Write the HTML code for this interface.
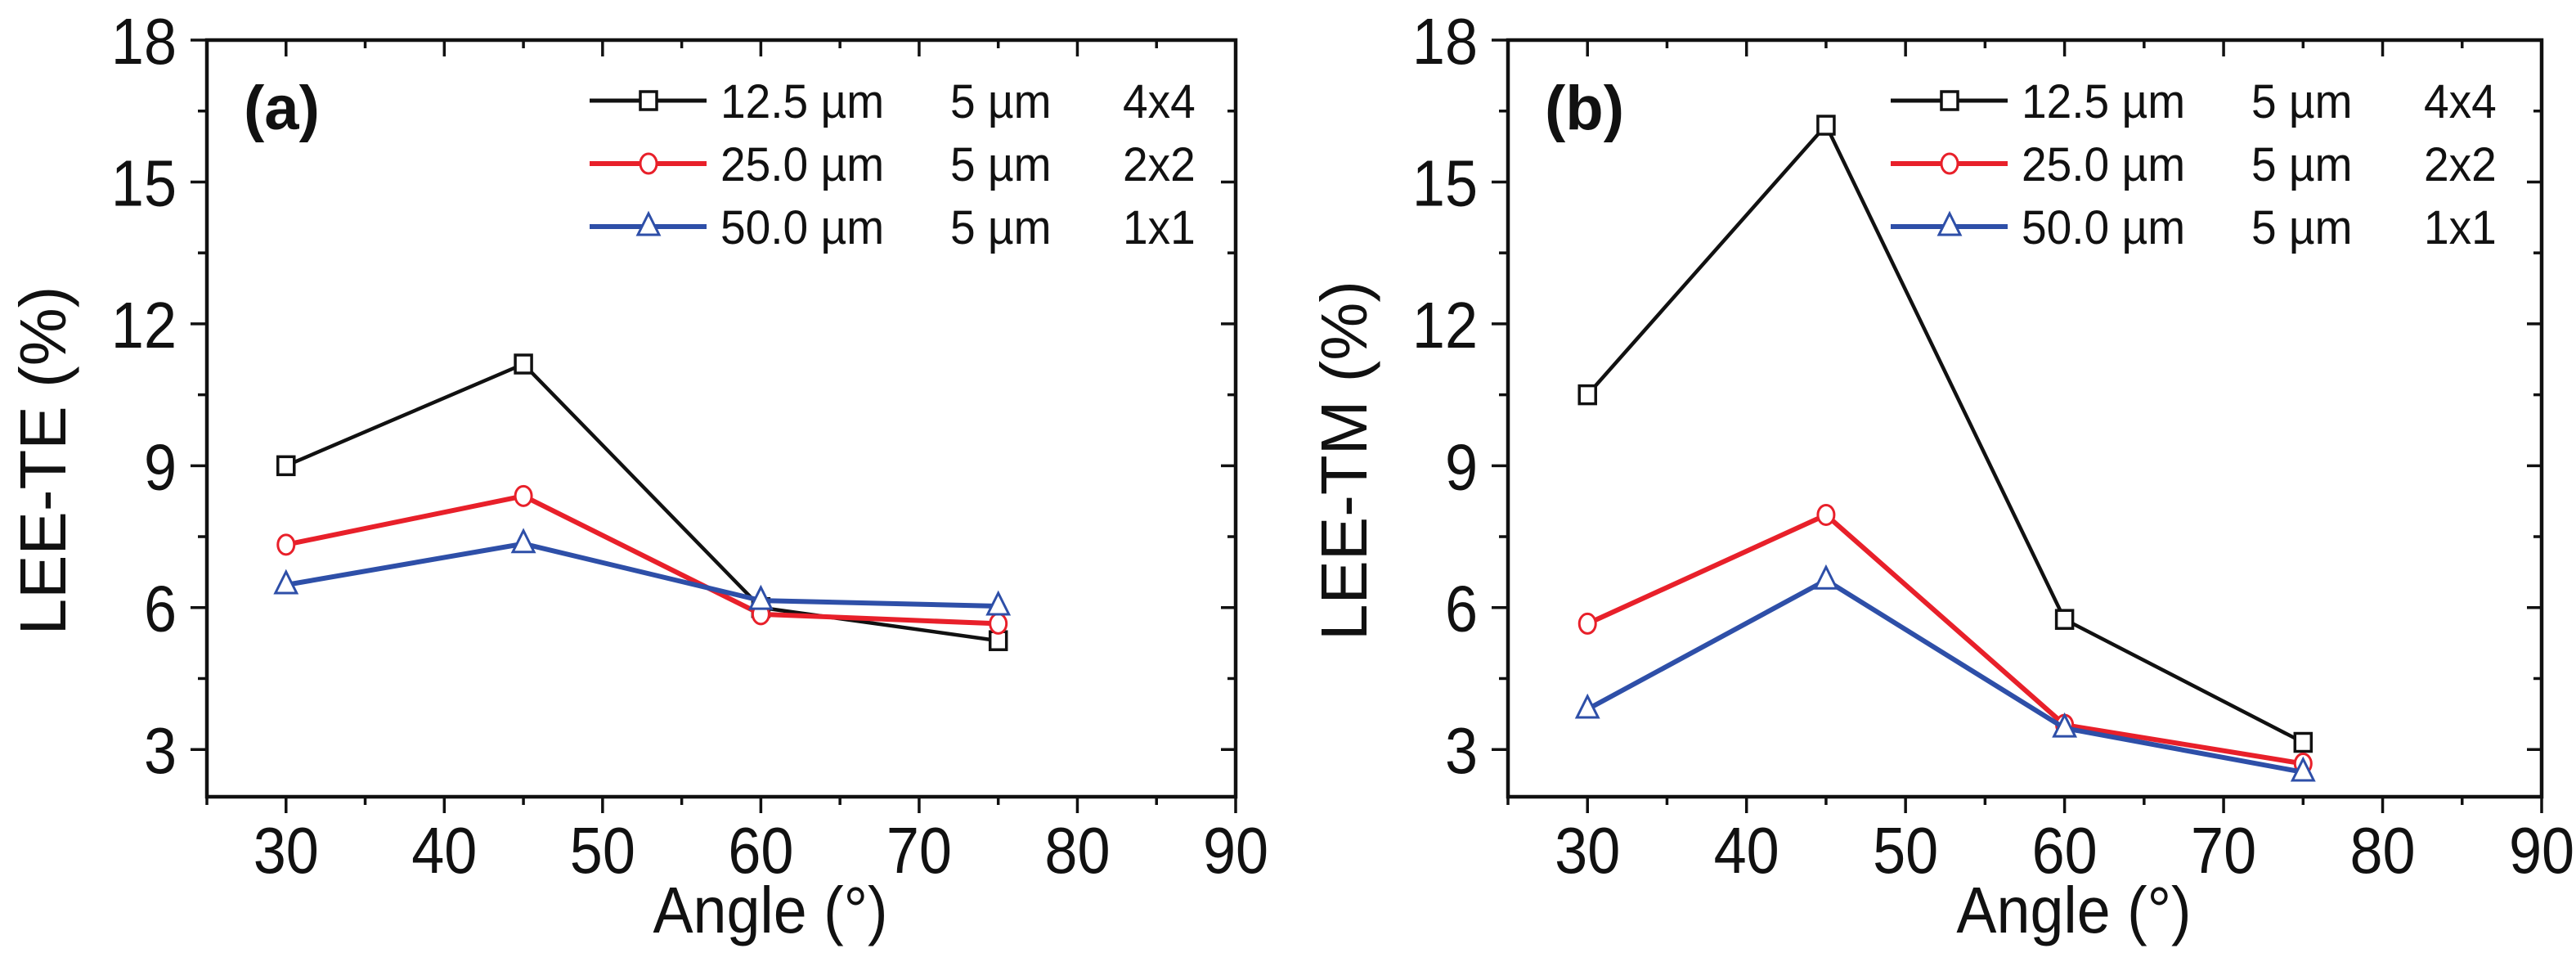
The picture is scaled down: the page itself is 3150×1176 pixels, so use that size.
<!DOCTYPE html>
<html><head><meta charset="utf-8"><style>
html,body{margin:0;padding:0;background:#fff;}
svg{display:block;font-family:"Liberation Sans",Arial,sans-serif;}
</style></head>
<body>
<svg id="chart" width="3150" height="1176" viewBox="0 0 3150 1176" xmlns="http://www.w3.org/2000/svg"></svg>
<script>
// ---- data ----
const angles = [30, 45, 60, 75];
const teBlack = [9.0, 11.15, 6.0, 5.3];
const teRed = [7.33, 8.36, 5.86, 5.66];
const teBlue = [6.48, 7.35, 6.15, 6.03];
const tmBlack = [10.5, 16.2, 5.75, 3.15];
const tmRed = [5.66, 7.96, 3.52, 2.7];
const tmBlue = [3.85, 6.58, 3.45, 2.52];
const xTicks = [30, 40, 50, 60, 70, 80, 90];
const yTicks = [3, 6, 9, 12, 15, 18];
const legendSizes = ["12.5 µm", "25.0 µm", "50.0 µm"];
const legendPitch = ["5 µm", "5 µm", "5 µm"];
const legendArray = ["4x4", "2x2", "1x1"];

const NS = "http://www.w3.org/2000/svg";
const svg = document.getElementById("chart");
function mk(tag, attrs, parent) {
  const e = document.createElementNS(NS, tag);
  for (const k in attrs) e.setAttribute(k, attrs[k]);
  (parent || svg).appendChild(e);
  return e;
}
const colors = ["#111111", "#e8202a", "#2e4fa8"];
const markers = ["square", "circle", "triangle"];

function panel(left, right, yTitle, tag, seriesList, pname) {
  const top = 49, bottom = 974;
  const xMin = 25, xMax = 90, yMin = 2, yMax = 18;
  const X = v => left + (v - xMin) / (xMax - xMin) * (right - left);
  const Y = v => bottom - (v - yMin) / (yMax - yMin) * (bottom - top);
  const g = mk("g", {});
  
  

  // ticks
  const tg = mk("g", {stroke: "#111", "stroke-width": 3.5}, g);
  
  
  for (let v = 25; v <= 90; v += 5) {
    const major = v % 10 === 0;
    const x = X(v);
    mk("line", {x1: x, y1: bottom, x2: x, y2: bottom + (major ? 20 : 10)}, tg);
    mk("line", {x1: x, y1: top, x2: x, y2: top + (major ? 20 : 10)}, tg);
  }
  for (let v = 3; v <= 18; v += 1.5) {
    const major = Math.abs(v % 3) < 1e-6;
    const y = Y(v);
    mk("line", {x1: left, y1: y, x2: left - (major ? 20 : 11), y2: y}, tg);
    mk("line", {x1: right, y1: y, x2: right - (major ? 18 : 10), y2: y}, tg);
  }
  // frame
  const fr = mk("rect", {x: left, y: top, width: right - left, height: bottom - top, fill: "none", stroke: "#111", "stroke-width": 4.5}, g);
  
  

  // tick labels
  xTicks.forEach(v => {
    const t = mk("text", {x: X(v), y: 1067, "font-size": 80, "text-anchor": "middle", fill: "#111", transform: `translate(${X(v)},0) scale(0.9,1) translate(${-X(v)},0)`}, g);
    t.textContent = v;
    
    
  });
  yTicks.forEach(v => {
    const xr = left - 37;
    const t = mk("text", {x: xr, y: Y(v) + 29, "font-size": 80, "text-anchor": "end", fill: "#111", transform: `translate(${xr},0) scale(0.9,1) translate(${-xr},0)`}, g);
    t.textContent = v;
    
    
  });
  // axis titles
  const xt = mk("text", {x: (left + right) / 2 + 60, y: 1140, "font-size": 80, "text-anchor": "middle", fill: "#111", transform: `translate(${(left + right) / 2 + 60},0) scale(0.92,1) translate(${-((left + right) / 2 + 60)},0)`}, g);
  xt.textContent = "Angle (°)";
  
  
  const yt = mk("text", {x: 0, y: 0, "font-size": 80, "text-anchor": "middle", fill: "#111", transform: `translate(${left - 173},563) rotate(-90)`}, g);
  yt.textContent = yTitle;
  
  
  // panel tag
  const pt = mk("text", {x: left + 45, y: 158, "font-size": 76, "font-weight": "bold", fill: "#111"}, g);
  pt.textContent = tag;
  
  

  function marker(kind, cx, cy, color, parent) {
    let m;
    if (kind === "square") m = mk("rect", {x: cx - 10, y: cy - 11, width: 20, height: 22, fill: "#fff", stroke: color, "stroke-width": 3.5}, parent);
    else if (kind === "circle") m = mk("ellipse", {cx: cx, cy: cy, rx: 10, ry: 12, fill: "#fff", stroke: color, "stroke-width": 3}, parent);
    else m = mk("polygon", {points: `${cx},${cy - 16} ${cx - 13},${cy + 10} ${cx + 13},${cy + 10}`, fill: "#fff", stroke: color, "stroke-width": 3}, parent);
    return m;
  }

  // series
  seriesList.forEach((vals, i) => {
    const sg = mk("g", {}, g);
    
    
    const pts = angles.map((a, k) => X(a) + "," + Y(vals[k])).join(" ");
    const pl = mk("polyline", {points: pts, fill: "none", stroke: colors[i], "stroke-width": i === 0 ? 4.5 : 6, "stroke-linejoin": "round"}, sg);
    
    
    angles.forEach((a, k) => {
      const m = marker(markers[i], X(a), Y(vals[k]), colors[i], sg);
      
      
    });
  });

  // legend
  const lg = mk("g", {}, g);
  
  
  const rows = [123, 200, 277];
  rows.forEach((ry, i) => {
    const eg = mk("g", {}, lg);
    
    
    const lx = left + 468;
    mk("line", {x1: lx, y1: ry, x2: lx + 143, y2: ry, stroke: colors[i], "stroke-width": i === 0 ? 5 : 6}, eg);
    marker(markers[i], lx + 72, ry, colors[i], eg);
    const cols = [[legendSizes[i], 628], [legendPitch[i], 909], [legendArray[i], 1120]];
    cols.forEach(([s, off]) => {
      const tx = left + off;
      const t = mk("text", {x: tx, y: ry + 21, "font-size": 58, fill: "#111", transform: `translate(${tx},0) scale(0.95,1) translate(${-tx},0)`}, eg);
      t.textContent = s;
      
      
    });
  });
}

panel(253, 1511, "LEE-TE (%)", "(a)", [teBlack, teRed, teBlue], "panel-a-te");
panel(1844, 3108, "LEE-TM (%)", "(b)", [tmBlack, tmRed, tmBlue], "panel-b-tm");
</script>
</body></html>
